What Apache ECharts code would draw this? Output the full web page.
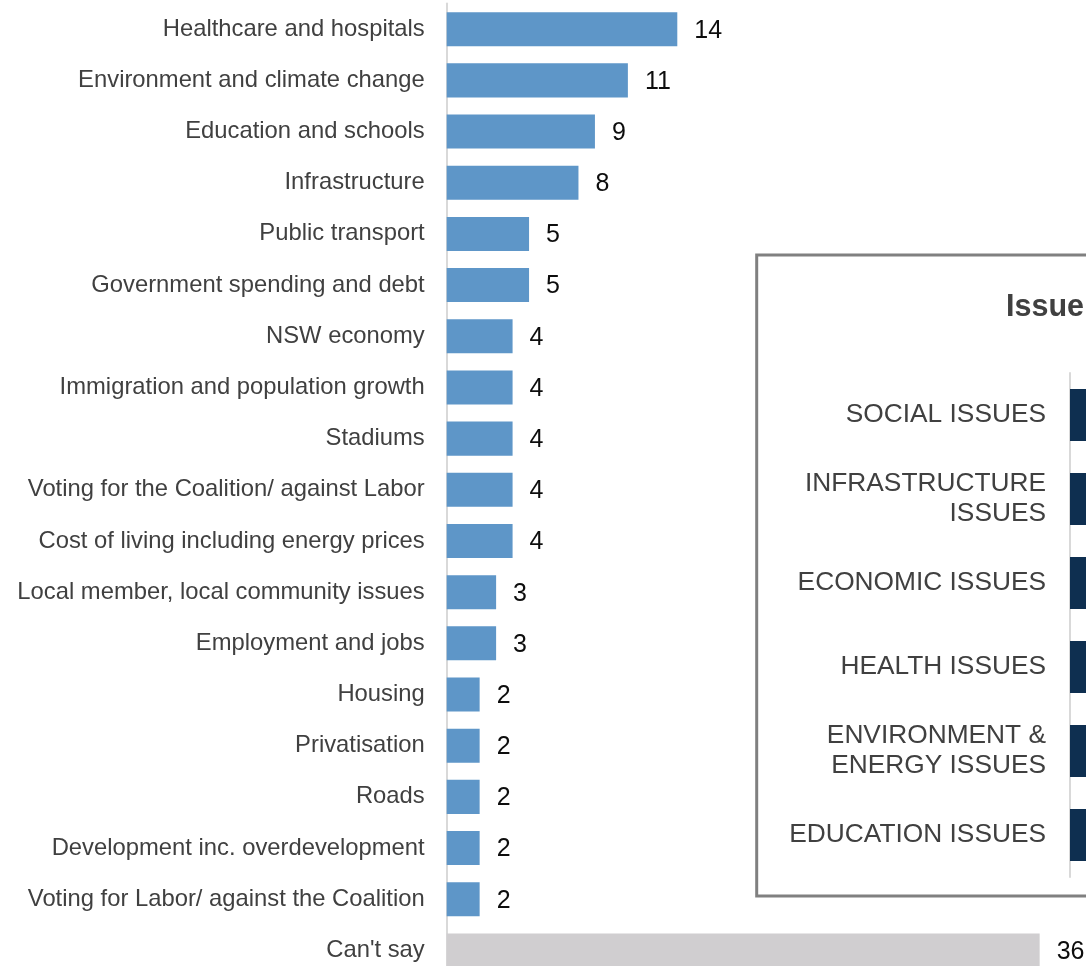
<!DOCTYPE html>
<html>
<head>
<meta charset="utf-8">
<script src="https://cdn.jsdelivr.net/npm/echarts@6/dist/echarts.min.js"></script>
<style>
  html, body { margin: 0; padding: 0; background: #ffffff; overflow: hidden; }
  /* the drawing surface runs a few pixels below the window so the last row is cut */
  #chart { width: 1086px; height: 976px; }
</style>
</head>
<body>
<div id="chart"></div>
<script>
// Most important issues in deciding the vote (%)
const issues = [
  'Healthcare and hospitals',
  'Environment and climate change',
  'Education and schools',
  'Infrastructure',
  'Public transport',
  'Government spending and debt',
  'NSW economy',
  'Immigration and population growth',
  'Stadiums',
  'Voting for the Coalition/ against Labor',
  'Cost of living including energy prices',
  'Local member, local community issues',
  'Employment and jobs',
  'Housing',
  'Privatisation',
  'Roads',
  'Development inc. overdevelopment',
  'Voting for Labor/ against the Coalition',
  "Can't say"
];
const issueValues = [14, 11, 9, 8, 5, 5, 4, 4, 4, 4, 4, 3, 3, 2, 2, 2, 2, 2, 36];

// Grouped issue categories (inset panel)
const groups = [
  'SOCIAL ISSUES',
  'INFRASTRUCTURE\nISSUES',
  'ECONOMIC ISSUES',
  'HEALTH ISSUES',
  'ENVIRONMENT &\nENERGY ISSUES',
  'EDUCATION ISSUES'
];
const groupValues = [22, 19, 17, 14, 11, 9];

const FONT = '"Liberation Sans", Arial, sans-serif';
const BLUE = '#5e96c8';
const GREY = '#d0ced0';
const NAVY = '#0e2f50';

const chart = echarts.init(document.getElementById('chart'), null, { renderer: 'canvas' });

chart.setOption({
  animation: false,
  backgroundColor: '#ffffff',
  textStyle: { fontFamily: FONT },
  grid: [
    { left: 446.7, top: 3.6, right: 13.4, bottom: 0, containLabel: false },
    { left: 1070, top: 373, width: 500, height: 504, containLabel: false }
  ],
  xAxis: [
    { gridIndex: 0, type: 'value', min: 0, max: 38, show: false },
    { gridIndex: 1, type: 'value', min: 0, max: 25, show: false }
  ],
  yAxis: [
    {
      gridIndex: 0,
      type: 'category',
      inverse: true,
      data: issues,
      axisTick: { show: false },
      axisLine: { show: true, lineStyle: { color: '#d9d9d9', width: 2 } },
      axisLabel: {
        margin: 22, fontSize: 23.8, color: '#404040', fontFamily: FONT,
        padding: [3, 0, 0, 0]
      }
    },
    {
      gridIndex: 1,
      type: 'category',
      inverse: true,
      data: groups,
      axisTick: { show: false },
      axisLine: { show: true, lineStyle: { color: '#d9d9d9', width: 2 } },
      axisLabel: {
        margin: 24, fontSize: 26.3, lineHeight: 30, color: '#404040',
        fontFamily: FONT, align: 'right'
      }
    }
  ],
  graphic: [
    {
      type: 'rect',
      z: 0,
      shape: { x: 756.7, y: 255, width: 700, height: 641 },
      style: { fill: 'transparent', stroke: '#808080', lineWidth: 3 }
    },
    {
      type: 'text',
      z: 5,
      x: 1006,
      y: 308,
      style: {
        text: 'Issue categories',
        font: 'bold 30.5px ' + FONT,
        fill: '#404040',
        verticalAlign: 'middle',
        align: 'left'
      }
    }
  ],
  series: [
    {
      type: 'bar',
      xAxisIndex: 0,
      yAxisIndex: 0,
      barCategoryGap: '33.5%',
      data: issueValues.map((v, i) => ({
        value: v,
        itemStyle: { color: issues[i] === "Can't say" ? GREY : BLUE }
      })),
      label: {
        show: true,
        position: 'right',
        distance: 17,
        offset: [0, 1.5],
        fontSize: 25,
        color: '#0d0d0d',
        fontFamily: FONT
      }
    },
    {
      type: 'bar',
      xAxisIndex: 1,
      yAxisIndex: 1,
      barCategoryGap: '38%',
      itemStyle: { color: NAVY },
      data: groupValues
    }
  ]
});
</script>
</body>
</html>
